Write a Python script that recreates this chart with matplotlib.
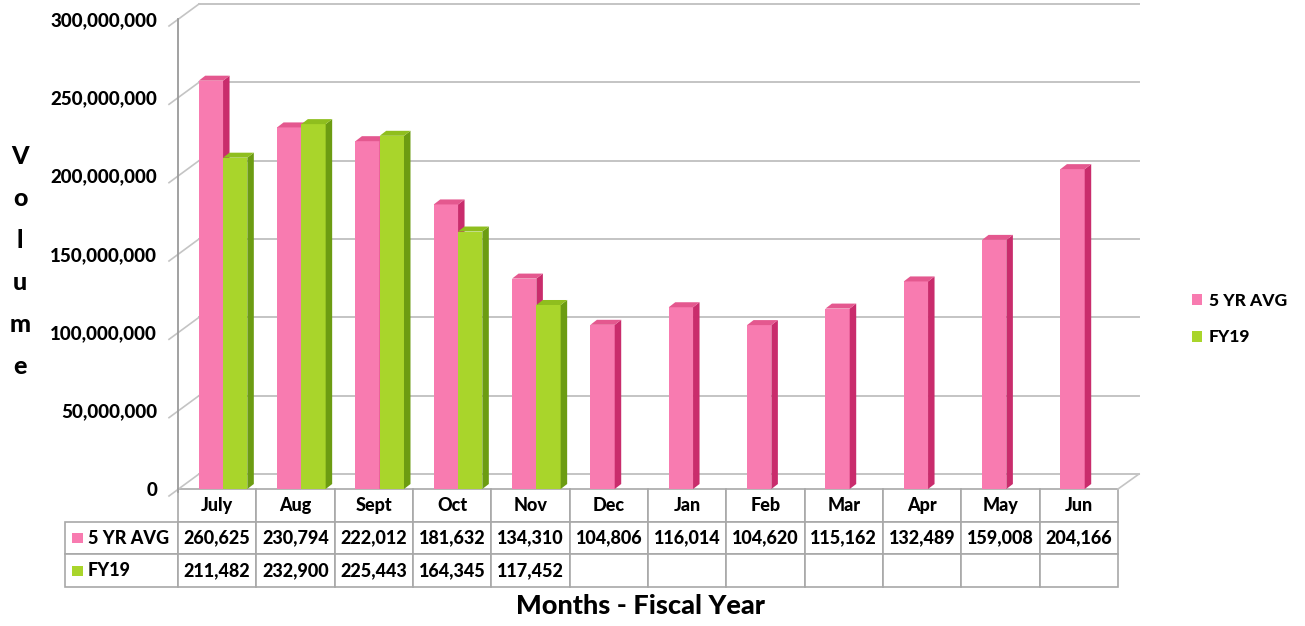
import numpy as np
import matplotlib
matplotlib.use("Agg")
import matplotlib.pyplot as plt
from matplotlib.patches import Polygon, Rectangle
from matplotlib.table import Table

plt.rcParams["font.family"] = ["Lato", "DejaVu Sans"]
plt.rcParams["font.weight"] = "black"

# data (table values are in thousands)
months = ["July", "Aug", "Sept", "Oct", "Nov", "Dec",
          "Jan", "Feb", "Mar", "Apr", "May", "Jun"]
avg_5yr = [260625, 230794, 222012, 181632, 134310, 104806,
           116014, 104620, 115162, 132489, 159008, 204166]
fy19 = [211482, 232900, 225443, 164345, 117452]
series_names = ["5 YR AVG", "FY19"]
y_ticks = [0, 50e6, 100e6, 150e6, 200e6, 250e6, 300e6]

PINK = ("#f87bb0", "#c92c6c", "#e4588f")   # front, side, top
GREEN = ("#a9d52b", "#6c9c12", "#8fbe1e")
GRID = "#c4c4c4"
W, H = 1305, 626

fig = plt.figure(figsize=(W / 100, H / 100), dpi=100)
ax = fig.add_axes([178 / W, (H - 489) / H, 940 / W, 470 / H])
ax.set_xlim(-0.5, 11.5)
ax.set_ylim(0, 300e6)

# depth of the 3D back wall in data units
px_x = 12 / 940
px_y = 300e6 / 470
back_dx, back_dy = 21 * px_x, 15 * px_y

for v in y_ticks:
    ax.plot([-0.5 + back_dx, 11.5 + back_dx], [v + back_dy, v + back_dy],
            color=GRID, lw=1.4, clip_on=False, zorder=1)
    ax.plot([-0.5 - 9 * px_x, -0.5 + back_dx], [v - 7 * px_y, v + back_dy],
            color=GRID, lw=1.2, clip_on=False, zorder=1)
ax.plot([11.5, 11.5 + back_dx], [0, back_dy], color=GRID, lw=1.2, clip_on=False)


def bars3d(xpos, values, width, colors, label):
    heights = np.asarray(values, dtype=float) * 1000
    cont = ax.bar(xpos, heights, width=width, color=colors[0], label=label,
                  zorder=3, linewidth=0)
    dx, dy = 6.5 * px_x, 5 * px_y
    for x, h in zip(xpos, heights):
        x0, x1 = x - width / 2, x + width / 2
        ax.add_patch(Polygon([(x1, 0), (x1 + dx, dy), (x1 + dx, h + dy), (x1, h)],
                             closed=True, color=colors[1], lw=0, zorder=3))
        ax.add_patch(Polygon([(x0, h), (x0 + dx, h + dy), (x1 + dx, h + dy), (x1, h)],
                             closed=True, color=colors[2], lw=0, zorder=3))
    return cont


x = np.arange(len(months))
bar_w = 0.31
b1 = bars3d(x - 0.08, avg_5yr, bar_w, PINK, series_names[0])
b2 = bars3d(x[:len(fy19)] + 0.23, fy19, bar_w, GREEN, series_names[1])

ax.set_yticks(y_ticks)
ax.set_yticklabels([f"{int(v):,}" for v in y_ticks], fontsize=13.5, fontweight="black")
ax.tick_params(axis="y", length=0, pad=15)
ax.set_xticks([])
for s in ["top", "right", "bottom"]:
    ax.spines[s].set_visible(False)
ax.spines["left"].set_color("#9a9a9a")
ax.spines["left"].set_linewidth(1.3)
ax.spines["left"].set_bounds(-3 * px_y, 300e6)

# data table under the plot
label_w, col_w = 113, 940 / 12
total_w = label_w + col_w * 12
tbl_h = 98 / 470
tbl = Table(ax, bbox=[-label_w / 940, -tbl_h, total_w / 940, tbl_h])
header = [""] + months
rows = [[series_names[0]] + [f"{v:,}" for v in avg_5yr],
        [series_names[1]] + [f"{v:,}" for v in fy19] + [""] * (12 - len(fy19))]
for r, line in enumerate([header] + rows):
    for c, txt in enumerate(line):
        w = label_w / total_w if c == 0 else col_w / total_w
        cell = tbl.add_cell(r, c, width=w, height=1 / 3, text=txt,
                            loc="left" if c == 0 else "center",
                            edgecolor="#a8a8a8", facecolor="white")
        cell.set_linewidth(1.2)
        cell.get_text().set_fontsize(13)
        cell.get_text().set_fontweight("black")
        if c == 0:
            cell.PAD = 0.2
        if r == 0 and c == 0:
            cell.visible_edges = ""
tbl.auto_set_font_size(False)
ax.add_table(tbl)

# coloured keys in the row label cells
for i, col in enumerate([PINK[0], GREEN[0]]):
    yc = -tbl_h * (1.5 + i) / 3
    ax.add_patch(Rectangle((-106 / 940, yc - 5 / 470), 11 / 940, 10 / 470,
                           transform=ax.transAxes, color=col, clip_on=False, lw=0))

fig.legend(handles=[b1, b2], labels=series_names, loc="center left",
           bbox_to_anchor=(1176 / W, 1 - 319 / H), frameon=False,
           handlelength=0.6, handleheight=0.6, handletextpad=0.4,
           labelspacing=1.2, prop={"size": 12.5, "weight": "black"})

fig.text(20 / W, 1 - 261 / H, "V\no\nl\nu\nm\ne", ha="center", va="center",
         multialignment="center", fontsize=18, fontweight="black", linespacing=2.0)
fig.text(640 / W, 1 - 606 / H, "Months - Fiscal Year", ha="center", va="center",
         fontsize=19.5, fontweight="black")

fig.savefig("out.png", dpi=100, facecolor="white")
